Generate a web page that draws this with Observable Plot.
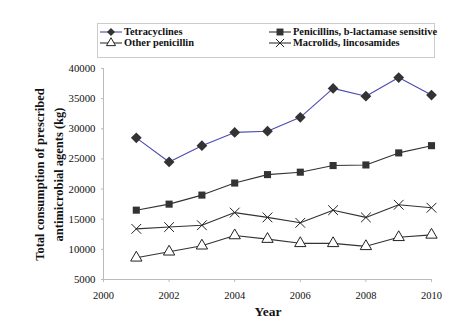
<!DOCTYPE html>
<html><head><meta charset="utf-8">
<script src="https://cdn.jsdelivr.net/npm/d3@7"></script>
<script src="https://cdn.jsdelivr.net/npm/@observablehq/plot@0.6"></script>
<style>
body{margin:0;background:#fff;font-family:"Liberation Serif","Times New Roman",serif;}
#wrap{position:relative;width:457px;height:334px;}
#legend{position:absolute;left:97px;top:23px;width:338px;height:35px;border:1px solid #ccc;box-sizing:border-box;font-weight:bold;font-size:10.4px;color:#111;font-family:"Liberation Serif","Times New Roman",serif;}
.item{position:absolute;display:flex;align-items:center;white-space:nowrap;line-height:12px;}
.item svg{margin-right:2px;}
</style></head><body>
<div id="wrap"><div id="legend"></div></div>
<script>
const years = [2001,2002,2003,2004,2005,2006,2007,2008,2009,2010];
const tetracyclines = [28500,24500,27200,29400,29600,31900,36700,35400,38500,35600];
const penicillinsBL = [16500,17500,19000,21000,22400,22800,23900,24000,26000,27200];
const otherPenicillin = [8600,9600,10600,12300,11700,11000,11000,10500,12000,12400];
const macrolids = [13400,13700,14000,16100,15300,14400,16500,15300,17400,16900];
const seriesNames = ["Tetracyclines","Penicillins, b-lactamase sensitive","Other penicillin","Macrolids, lincosamides"];
const xTicks = [2000,2002,2004,2006,2008,2010];
const yTicks = [5000,10000,15000,20000,25000,30000,35000,40000];
const xLabel = "Year";
const yLabelLines = ["Total consumption of prescribed","antimicrobial agents (kg)"];
const FONT = "'Liberation Serif','Times New Roman',serif";

const rhombus = {draw(ctx, size){ const r = Math.sqrt(size/2); ctx.moveTo(0,-r); ctx.lineTo(r,0); ctx.lineTo(0,r); ctx.lineTo(-r,0); ctx.closePath(); }};
const styles = {
  "Tetracyclines": {line:"#4b4bb0", symbol:rhombus, fill:"#333", stroke:"none", r:4.3, ls:rhombus, lsize:32},
  "Penicillins, b-lactamase sensitive": {line:"#333", symbol:"square", fill:"#333", stroke:"none", r:4, ls:d3.symbolSquare, lsize:48},
  "Other penicillin": {line:"#333", symbol:"triangle", fill:"#fff", stroke:"#222", r:4.2, ls:d3.symbolTriangle, lsize:36},
  "Macrolids, lincosamides": {line:"#333", symbol:"times", fill:"none", stroke:"#222", r:4.5, ls:d3.symbolTimes, lsize:45}
};
const allVals = [tetracyclines, penicillinsBL, otherPenicillin, macrolids];
const data = [];
seriesNames.forEach((s,i)=>years.forEach((y,j)=>data.push({series:s, year:y, value:allVals[i][j]})));

const marks = [
  Plot.ruleY([5000],{stroke:"#bbb"}),
  Plot.ruleX([2000],{stroke:"#bbb"}),
  Plot.axisX({ticks:xTicks, tickFormat:d=>String(d), tickSize:3, stroke:"#bbb", fontSize:10.5, fontFamily:FONT, fill:"#111", tickPadding:9, label:null}),
  Plot.axisY({ticks:yTicks, tickFormat:d=>String(d), tickSize:2, stroke:"#bbb", fontSize:10.8, fontFamily:FONT, fill:"#111", tickPadding:6, label:null}),
];
for (const s of seriesNames) {
  const st = styles[s];
  const d = data.filter(e=>e.series===s);
  marks.push(Plot.line(d,{x:"year",y:"value",stroke:st.line,strokeWidth:1.1}));
  marks.push(Plot.dot(d,{x:"year",y:"value",symbol:()=>st.symbol,r:st.r,fill:st.fill,stroke:st.stroke,strokeWidth:1}));
}

const W=457, H=334, mL=103, mR=26, mT=68, mB=55;
const chart = Plot.plot({
  width:W, height:H,
  marginLeft:mL, marginRight:mR, marginTop:mT, marginBottom:mB,
  x:{domain:[2000,2010]},
  y:{domain:[5000,40000]},
  style:`font-family:${FONT};background:transparent;overflow:visible;`,
  marks
});
chart.style.position="absolute"; chart.style.left="0"; chart.style.top="0";
const svg = d3.select(chart);
svg.append("text").text(xLabel)
  .attr("x",(mL+W-mR)/2+1).attr("y",H-mB+37)
  .attr("text-anchor","middle").attr("font-weight","bold").attr("font-size",13.5).attr("font-family",FONT).attr("fill","#111");
const yl = svg.append("text")
  .attr("transform",`translate(${mL-63},${(mT+H-mB)/2+1}) rotate(-90)`)
  .attr("text-anchor","middle").attr("font-weight","bold").attr("font-size",12.5).attr("font-family",FONT).attr("fill","#111");
yLabelLines.forEach((t,i)=>yl.append("tspan").attr("x",0).attr("dy",i===0?"0.35em":"1.45em").text(t));
document.getElementById("wrap").prepend(chart);

// legend
const pos = [[2,2],[171,2],[2,13],[171,13]];
const leg = document.getElementById("legend");
seriesNames.forEach((s,i)=>{
  const st = styles[s];
  const div = document.createElement("div");
  div.className="item"; div.style.left=pos[i][0]+"px"; div.style.top=pos[i][1]+"px";
  const sym = d3.symbol(st.ls, st.lsize)();
  div.innerHTML = `<svg width="22" height="12"><line x1="0" x2="22" y1="6" y2="6" stroke="${st.line}" stroke-width="1.1"/><path d="${sym}" transform="translate(11,6)" fill="${st.fill}" stroke="${st.stroke}"/></svg><span>${s}</span>`;
  leg.appendChild(div);
});
</script>
</body></html>
